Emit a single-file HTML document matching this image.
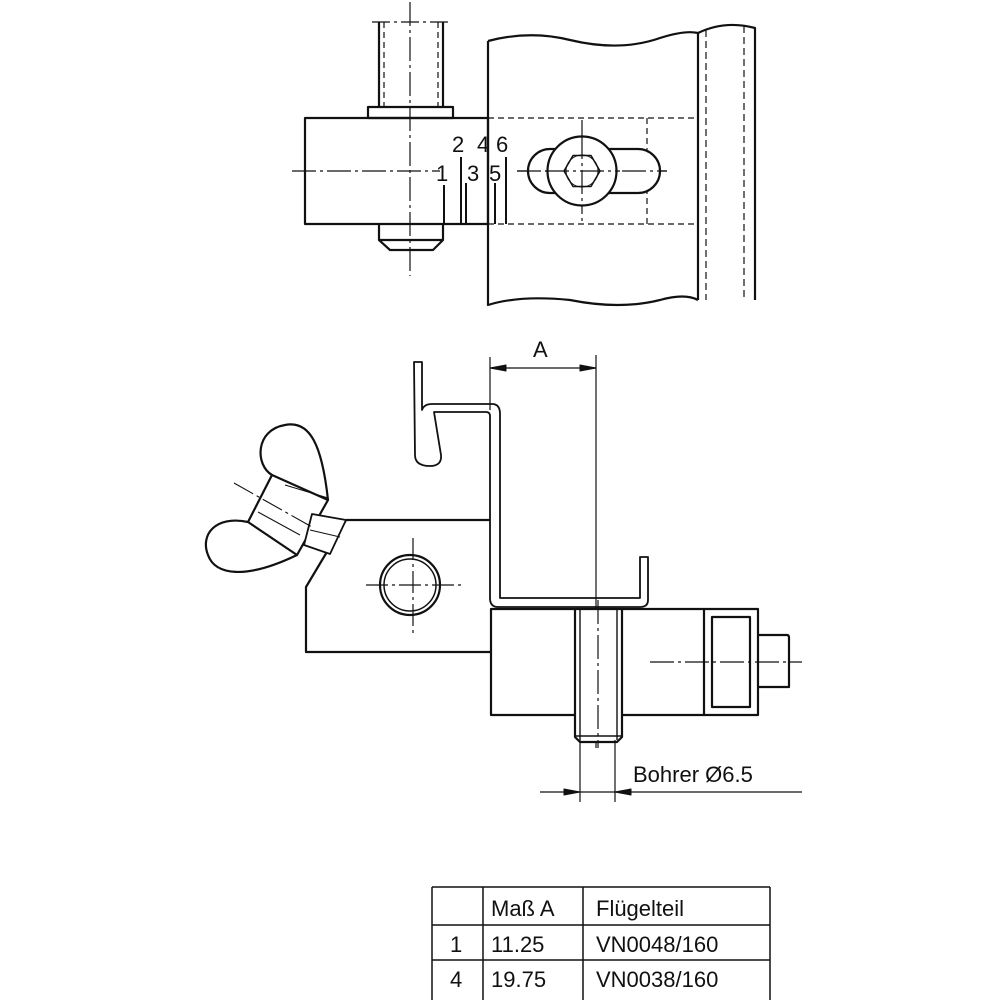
<!DOCTYPE html>
<html><head><style>html,body{margin:0;padding:0;background:#fff}svg{display:block}text{font-family:"Liberation Sans",sans-serif;fill:#111}</style></head>
<body>
<svg width="1000" height="1000" viewBox="0 0 1000 1000" xmlns="http://www.w3.org/2000/svg">
<g fill="none" stroke="#111" stroke-width="2.2" stroke-linejoin="round">
<!-- TOP VIEW -->
<path d="M379 22 V107 M443 22 V107"/>
<path d="M384 22 V107 M438 22 V107" stroke-width="1.2" stroke-dasharray="6 4"/>
<line x1="372" y1="22" x2="450" y2="22" stroke-width="1.2" stroke-dasharray="18 4 3 4"/>
<rect x="368" y="107" width="85" height="11"/>
<rect x="305" y="118" width="183" height="106"/>
<path d="M379 224 V240 L390 250 H433 L443 240 V224 M379 240 H443"/>
<path d="M488 41 Q530 30 570 40 Q620 52 660 38 Q685 30 698 33 M488 41 V305 Q520 295 570 300 Q620 310 660 300 Q685 293 698 300 M698 33 V300"/>
<path d="M698 33 Q725 20 755 28 V300"/>
<path d="M706 30 V300 M744 26 V300" stroke-width="1.2" stroke-dasharray="7 4"/>
<path d="M488 118 H698 M488 224 H698 M647 118 V224" stroke-width="1.2" stroke-dasharray="6 4"/>
<line x1="410" y1="2" x2="410" y2="276" stroke-width="1.2" stroke-dasharray="24 4 3 4"/>
<line x1="292" y1="171" x2="440" y2="171" stroke-width="1.2" stroke-dasharray="24 4 3 4"/>
<line x1="517" y1="171" x2="667" y2="171" stroke-width="1.2" stroke-dasharray="24 4 3 4"/>
<line x1="582" y1="120" x2="582" y2="224" stroke-width="1.2" stroke-dasharray="24 4 3 4"/>
<path d="M550 149 H638 A22 22 0 0 1 638 193 H550 A22 22 0 0 1 550 149 Z" fill="#fff"/>
<line x1="517" y1="171" x2="667" y2="171" stroke-width="1.2" stroke-dasharray="24 4 3 4"/>
<circle cx="582" cy="171" r="34.5" fill="#fff"/>
<line x1="582" y1="135" x2="582" y2="207" stroke-width="1.2" stroke-dasharray="24 4 3 4"/>
<line x1="545" y1="171" x2="620" y2="171" stroke-width="1.2" stroke-dasharray="24 4 3 4"/>
<polygon points="600,171 591,155.5 573,155.5 564,171 573,186.5 591,186.5" stroke-width="1.5"/>
<circle cx="582" cy="171" r="16" stroke-width="1"/>
<path d="M444 185 V224 M461 157 V224 M466 183 V224 M488 157 V224 M495 183 V224 M506 157 V224" stroke-width="2"/>
</g>
<g font-size="22">
<text x="452" y="152">2</text><text x="477" y="152">4</text><text x="496" y="152">6</text>
<text x="436" y="181">1</text><text x="467" y="181">3</text><text x="489" y="181">5</text>
</g>

<g fill="none" stroke="#111" stroke-width="2.2" stroke-linejoin="round">
<path d="M490 357 V410 M596 355 V748" stroke-width="1.2"/>
<line x1="490" y1="368" x2="596" y2="368" stroke-width="1.2"/>
<path d="M490 368 L506 365 V371 Z M596 368 L580 365 V371 Z" fill="#111" stroke-width="1"/>
<path d="M414 362 H422 V410 Q424 404 432 404 H492 Q500 404 500 414 V598 H640 V557 H648 V600 Q648 607 640 607 H498 Q490 607 490 598 V416 Q490 412 486 412 H434 L441 455 Q442 466 430 466 Q415 466 415 455 Z" stroke-width="1.8"/>
<path d="M346 520 H490 M346 520 L306 587 V652 H490"/>
<circle cx="410" cy="585" r="30"/>
<circle cx="410" cy="585" r="26" stroke-width="1.5"/>
<path d="M366 585 H462 M413 538 V633" stroke-width="1.2" stroke-dasharray="22 4 3 4"/>
<path d="M272 475 L328 500 L297 555 L248 522 Z" fill="#fff"/>
<path d="M272 475 C255 465 255 430 285 425 C310 420 322 445 328 500"/>
<path d="M248 522 C215 515 200 535 208 555 C215 575 245 580 297 555"/>
<path d="M312 514 L346 520 L330 554 L304 545 Z" fill="#fff" stroke-width="1.8"/>
<path d="M310 530 L340 537" stroke-width="1"/>
<line x1="234" y1="483" x2="312" y2="527" stroke-width="1.1" stroke-dasharray="22 4 3 4"/>
<line x1="285" y1="485" x2="328" y2="498" stroke-width="1"/>
<line x1="258" y1="512" x2="300" y2="535" stroke-width="1"/>
<rect x="491" y="609" width="267" height="106"/>
<line x1="704" y1="609" x2="704" y2="715"/>
<rect x="712" y="617" width="38" height="90"/>
<path d="M758 635 H787 Q789 635 789 638 V687 H758"/>
<line x1="650" y1="662" x2="802" y2="662" stroke-width="1.2" stroke-dasharray="24 4 3 4"/>
<path d="M575 609 V737 L580 742 H617 L622 737 V609 Z" fill="#fff"/>
<path d="M580 609 V740 M617 609 V740 M575 736 H622" stroke-width="1.4"/>
<line x1="598" y1="600" x2="598" y2="748" stroke-width="1.2" stroke-dasharray="24 4 3 4"/>
<path d="M580 740 V802 M615 740 V802 M540 792 H802" stroke-width="1.2"/>
<path d="M580 792 L564 789 V795 Z M615 792 L631 789 V795 Z" fill="#111" stroke-width="1"/>
<path d="M432 887 H770 M432 925 H770 M432 960 H770 M432 887 V1000 M483 887 V1000 M583 887 V1000 M770 887 V1000" stroke-width="1.5"/>
</g>
<text x="533" y="357" font-size="22">A</text>
<text x="633" y="782" font-size="22">Bohrer Ø6.5</text>
<g font-size="22">
<text x="491" y="916">Maß  A</text><text x="596" y="916">Flügelteil</text>
<text x="450" y="952">1</text><text x="491" y="952">11.25</text><text x="596" y="952">VN0048/160</text>
<text x="450" y="987">4</text><text x="491" y="987">19.75</text><text x="596" y="987">VN0038/160</text>
</g>
</svg>
</body></html>
